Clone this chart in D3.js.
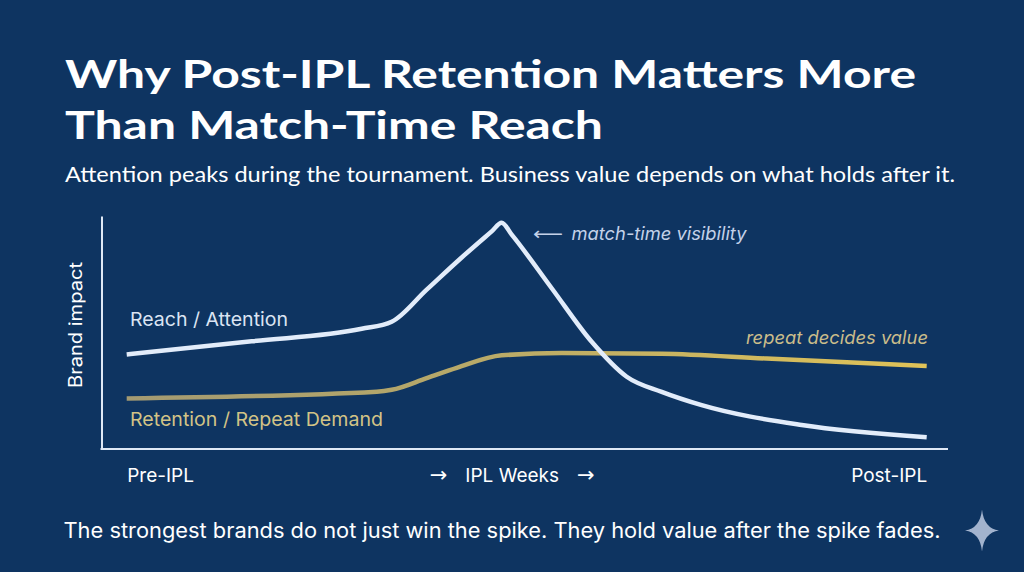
<!DOCTYPE html>
<html>
<head>
<meta charset="utf-8">
<script src="https://cdn.jsdelivr.net/npm/d3@7.9.0/dist/d3.min.js"></script>
<style>
  html, body { margin: 0; padding: 0; background: #0e3461; }
  svg { display: block; }
</style>
</head>
<body>
<svg id="chart" width="1024" height="572"></svg>
<script>
// data (x = IPL timeline in weeks, y = relative brand impact 0-100)
const reachWeeks = [0, 2.5, 4.7, 5.3, 6.0, 6.7, 7.3, 7.5, 7.7, 8.5, 9.3, 10.0, 10.7, 11.5, 13.5, 16];
const reachValues = [40.6, 46.2, 51.6, 54.6, 68.4, 82.2, 93.4, 97.1, 92.0, 69.0, 46.0, 31.0, 24.5, 18.8, 10.3, 5.0];

const retentionWeeks = [0, 5.0, 5.3, 6.0, 6.6, 7.5, 8.7, 10.7, 12.8, 16];
const retentionValues = [21.7, 24.6, 25.4, 30.4, 34.8, 40.2, 41.2, 40.9, 38.8, 35.6];

const tickWeeks = [0, 7.7, 16];
const tickLabels = ['Pre-IPL', 'IPL Weeks', 'Post-IPL'];

const svg = d3.select('#chart');

let x = d3.scaleLinear().domain([0, 16]).range([126.7, 926.7]);
let y = d3.scaleLinear().domain([0, 100]).range([449, 216]);

// gradient for the retention line (dull khaki -> gold)
let defs = svg.append('defs');
let grad = defs.append('linearGradient')
  .attr('id', 'retGrad')
  .attr('gradientUnits', 'userSpaceOnUse')
  .attr('x1', x(0)).attr('x2', x(16)).attr('y1', 0).attr('y2', 0);
grad.append('stop').attr('offset', '0%').attr('stop-color', '#a39a72');
grad.append('stop').attr('offset', '45%').attr('stop-color', '#b9aa68');
grad.append('stop').attr('offset', '100%').attr('stop-color', '#e0c358');

// titles
svg.append('text')
  .attr('x', 65).attr('y', 88)
  .attr('textLength', 851).attr('lengthAdjust', 'spacingAndGlyphs')
  .style('font', '700 39px Lato, sans-serif').attr('fill', '#ffffff')
  .text('Why Post-IPL Retention Matters More');
svg.append('text')
  .attr('x', 65).attr('y', 139)
  .attr('textLength', 538).attr('lengthAdjust', 'spacingAndGlyphs')
  .style('font', '700 39px Lato, sans-serif').attr('fill', '#ffffff')
  .text('Than Match-Time Reach');
svg.append('text')
  .attr('x', 65).attr('y', 181.5)
  .attr('textLength', 890).attr('lengthAdjust', 'spacingAndGlyphs')
  .style('font', '400 21px Lato, sans-serif').attr('fill', '#ffffff')
  .text('Attention peaks during the tournament. Business value depends on what holds after it.');

// axes
svg.append('g')
  .attr('transform', 'translate(101.5,0)')
  .call(d3.axisLeft(y).ticks(0).tickSizeOuter(0))
  .call(g => g.select('.domain').attr('stroke', '#dfe8f5').attr('stroke-width', 2));

svg.append('line')
  .attr('x1', 100.5).attr('x2', 948).attr('y1', 449).attr('y2', 449)
  .attr('stroke', '#dfe8f5').attr('stroke-width', 2.2);

let xTicks = svg.append('g')
  .attr('transform', 'translate(0,449)')
  .call(d3.axisBottom(x).tickValues(tickWeeks).tickFormat((d, i) => tickLabels[i]).tickSize(0).tickPadding(20))
  .call(g => g.select('.domain').remove())
  .selectAll('text')
  .attr('fill', '#ffffff')
  .style('font', '400 19px Inter, sans-serif')
  .attr('text-anchor', (d, i) => i === 0 ? 'start' : (i === 2 ? 'end' : 'middle'));

// middle tick gets arrows on both sides
xTicks.filter((d, i) => i === 1).each(function (d, i) {
  let t = d3.select(this);
  let label = t.text();
  t.text('');
  t.append('tspan').style('font-family', '"DejaVu Sans", sans-serif').style('font-size', '21px').text('\u2192');
  t.append('tspan').attr('dx', 18).text(label);
  t.append('tspan').attr('dx', 18).style('font-family', '"DejaVu Sans", sans-serif').style('font-size', '21px').text('\u2192');
});

// y axis title
svg.append('text')
  .attr('transform', 'translate(82,325) rotate(-90)')
  .attr('text-anchor', 'middle')
  .attr('textLength', 126).attr('lengthAdjust', 'spacingAndGlyphs')
  .style('font', '400 18px Inter, sans-serif').attr('fill', '#ffffff')
  .text('Brand impact');

// lines
let line = d3.line()
  .x((d) => x(d[0]))
  .y((d) => y(d[1]))
  .curve(d3.curveMonotoneX);

svg.append('path')
  .attr('d', line(d3.zip(retentionWeeks, retentionValues)))
  .attr('fill', 'none')
  .attr('stroke', 'url(#retGrad)')
  .attr('stroke-width', 4.5)
  .attr('stroke-linecap', 'butt');

svg.append('path')
  .attr('d', line(d3.zip(reachWeeks, reachValues)))
  .attr('fill', 'none')
  .attr('stroke', '#e2ecfa')
  .attr('stroke-width', 4.5)
  .attr('stroke-linejoin', 'round')
  .attr('stroke-linecap', 'butt');

// series labels and notes
svg.append('text')
  .attr('x', 130).attr('y', 326)
  .attr('textLength', 158).attr('lengthAdjust', 'spacingAndGlyphs')
  .style('font', '400 19px Inter, sans-serif').attr('fill', '#dbe4f3')
  .text('Reach / Attention');

svg.append('text')
  .attr('x', 130).attr('y', 426)
  .attr('textLength', 253).attr('lengthAdjust', 'spacingAndGlyphs')
  .style('font', '400 19px Inter, sans-serif').attr('fill', '#d2c386')
  .text('Retention / Repeat Demand');

svg.append('text')
  .attr('x', 533).attr('y', 240)
  .attr('textLength', 30).attr('lengthAdjust', 'spacingAndGlyphs')
  .style('font', '400 18px "DejaVu Sans", sans-serif').attr('fill', '#c3d1e9')
  .text('\u27F5');
svg.append('text')
  .attr('x', 571.5).attr('y', 240)
  .attr('textLength', 175).attr('lengthAdjust', 'spacingAndGlyphs')
  .style('font', 'italic 400 18px Inter, sans-serif').attr('fill', '#c3d1e9')
  .text('match-time visibility');

svg.append('text')
  .attr('x', 928).attr('y', 344)
  .attr('text-anchor', 'end')
  .attr('textLength', 182).attr('lengthAdjust', 'spacingAndGlyphs')
  .style('font', 'italic 400 18px Inter, sans-serif').attr('fill', '#cbbd8a')
  .text('repeat decides value');

// footer
svg.append('text')
  .attr('x', 63.5).attr('y', 537.5)
  .attr('textLength', 877).attr('lengthAdjust', 'spacingAndGlyphs')
  .style('font', '400 21px Inter, sans-serif').attr('fill', '#ffffff')
  .text('The strongest brands do not just win the spike. They hold value after the spike fades.');

// sparkle mark
svg.append('path')
  .attr('transform', 'translate(982,530.5)')
  .attr('d', 'M0,-21 Q2,-2 17,0 Q2,2 0,21 Q-2,2 -17,0 Q-2,-2 0,-21Z')
  .attr('fill', '#a2b3ce');
</script>
</body>
</html>
